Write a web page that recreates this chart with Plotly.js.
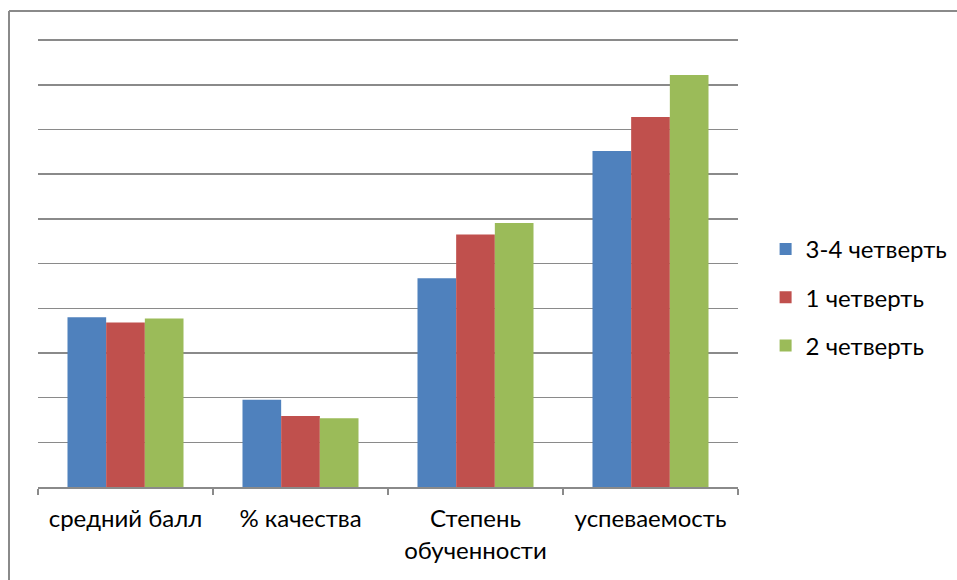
<!DOCTYPE html>
<html>
<head>
<meta charset="utf-8">
<script src="https://cdn.plot.ly/plotly-3.0.1.min.js"></script>
<style>
html,body{margin:0;padding:0;background:#fff;}
#chart{width:957px;height:580px;}
</style>
</head>
<body>
<div id="chart"></div>
<script>
const categories = ["средний балл", "% качества", "Степень<br>обученности", "успеваемость"];
const seriesNames = ["3-4 четверть", "1 четверть", "2 четверть"];
const q34 = [38.0, 19.5, 46.7, 75.2];
const q1  = [36.8, 15.9, 56.5, 82.8];
const q2  = [37.7, 15.4, 59.1, 92.2];
const colors = ["#4F81BD", "#C0504D", "#9BBB59"];

const values = [q34, q1, q2];
const traces = values.map((v, i) => ({
  type: "bar",
  name: seriesNames[i],
  x: categories,
  y: v,
  legendgroup: "g" + i,
  marker: {color: colors[i], line: {width: 0}},
  hoverinfo: "y"
}));

const layout = {
  width: 957, height: 580,
  margin: {l: 38, r: 219, t: 39, b: 93, autoexpand: false},
  paper_bgcolor: "#fff", plot_bgcolor: "#fff",
  font: {family: "Lato, 'Noto Sans', sans-serif", size: 24, color: "#000"},
  bargap: 0.337, bargroupgap: 0,
  barmode: "group",
  showlegend: true,
  legend: {
    xref: "container", x: 0.800, xanchor: "left", y: 0.423, yanchor: "middle",
    font: {size: 24, color: "#000"},
    tracegroupgap: 14,
    itemwidth: 30,
    bgcolor: "rgba(0,0,0,0)"
  },
  xaxis: {
    type: "category",
    showline: true, linecolor: "#8a8a8a", linewidth: 1.5,
    ticks: "outside", tickson: "boundaries", ticklen: 6, tickcolor: "#8a8a8a", tickwidth: 1.5,
    showgrid: false, zeroline: false, tickangle: 0,
    ticklabelstandoff: 10,
    tickfont: {size: 24, color: "#000"},
    automargin: false
  },
  yaxis: {
    range: [0, 100.25], dtick: 10, tick0: 0,
    showgrid: true, gridcolor: "#8a8a8a", gridwidth: 1.5,
    showticklabels: false, ticks: "", showline: false, zeroline: false,
    automargin: false
  },
  shapes: [
    {type: "line", xref: "paper", yref: "paper",
     x0: (9 - 38) / 700, x1: (960 - 38) / 700,
     y0: (487 - 11) / 448, y1: (487 - 11) / 448,
     line: {color: "#8a8a8a", width: 2}},
    {type: "line", xref: "paper", yref: "paper",
     x0: (9 - 38) / 700, x1: (9 - 38) / 700,
     y0: (487 - 11) / 448, y1: (487 - 585) / 448,
     line: {color: "#8a8a8a", width: 2}}
  ]
};

Plotly.newPlot("chart", traces, layout, {displayModeBar: false, staticPlot: true});
</script>
</body>
</html>
